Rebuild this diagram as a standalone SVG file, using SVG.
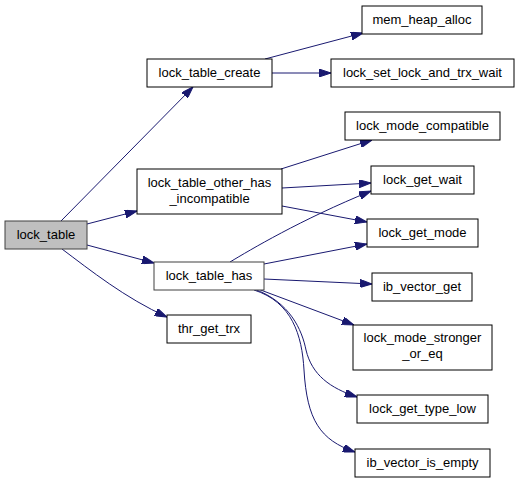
<svg xmlns="http://www.w3.org/2000/svg" width="520" height="483" viewBox="0 0 520 483">
<defs>
<style>
.n rect{fill:#ffffff;stroke:#000000;stroke-width:1}
.n.g rect{stroke:#404040}
.root rect{fill:#bfbfbf}
.n text{font-family:"Liberation Sans",Arial,sans-serif;font-size:13px;fill:#000000;text-anchor:middle}
.e path{fill:none;stroke:#191970;stroke-width:1;marker-end:url(#ah)}
</style>
<marker id="ah" markerUnits="userSpaceOnUse" viewBox="0 0 12 8" refX="12" refY="4" markerWidth="12" markerHeight="8" orient="auto">
<polygon points="0,0 12,4 0,8" fill="#191970" stroke="#191970"/>
</marker>
</defs>
<rect width="520" height="483" fill="#ffffff"/>
<g id="connectors" class="e">
<path d="M61,221 L193,87"/>
<path d="M87,224 L137,211"/>
<path d="M87,245 L154,263"/>
<path d="M62,249 C90,270 125,298 167,317"/>
<path d="M265,59 L363,33"/>
<path d="M272,73 L331,73"/>
<path d="M281,169 L372,140"/>
<path d="M282,188 L371,183"/>
<path d="M282,206 L367,222"/>
<path d="M230,262 C250,250 300,220 371,191"/>
<path d="M264,264 L367,244"/>
<path d="M264,279 L372,284"/>
<path d="M258,289 L354,325"/>
<path d="M254,289 C290,302 302,330 306,350 C312,375 330,388 357,397"/>
<path d="M254,290 C292,302 302,335 304,370 C307,420 320,440 355,452"/>
</g>
<g id="lock_table" class="n g root"><rect x="5" y="221" width="82" height="28"/><text x="46" y="239">lock_table</text></g>
<g id="lock_table_create" class="n"><rect x="147" y="59" width="125" height="28"/><text x="209.5" y="77">lock_table_create</text></g>
<g id="lock_table_other_has_incompatible" class="n"><rect x="137" y="169" width="145" height="45"/><text x="209.5" y="187">lock_table_other_has</text><text x="209.5" y="203">_incompatible</text></g>
<g id="lock_table_has" class="n g"><rect x="154" y="262" width="110" height="28"/><text x="209" y="280">lock_table_has</text></g>
<g id="thr_get_trx" class="n"><rect x="167" y="315" width="84" height="28"/><text x="209" y="333">thr_get_trx</text></g>
<g id="mem_heap_alloc" class="n"><rect x="362" y="6" width="120" height="28"/><text x="422" y="24">mem_heap_alloc</text></g>
<g id="lock_set_lock_and_trx_wait" class="n"><rect x="331" y="59" width="183" height="28"/><text x="422.5" y="77">lock_set_lock_and_trx_wait</text></g>
<g id="lock_mode_compatible" class="n"><rect x="345" y="112" width="155" height="28"/><text x="422.5" y="130">lock_mode_compatible</text></g>
<g id="lock_get_wait" class="n"><rect x="371" y="166" width="103" height="28"/><text x="422.5" y="184">lock_get_wait</text></g>
<g id="lock_get_mode" class="n"><rect x="367" y="219" width="111" height="28"/><text x="422.5" y="237">lock_get_mode</text></g>
<g id="ib_vector_get" class="n"><rect x="372" y="273" width="100" height="28"/><text x="422" y="291">ib_vector_get</text></g>
<g id="lock_mode_stronger_or_eq" class="n"><rect x="353" y="325" width="139" height="45"/><text x="422.5" y="342">lock_mode_stronger</text><text x="422.5" y="358">_or_eq</text></g>
<g id="lock_get_type_low" class="n"><rect x="357" y="395" width="131" height="28"/><text x="422.5" y="413">lock_get_type_low</text></g>
<g id="ib_vector_is_empty" class="n"><rect x="355" y="449" width="135" height="28"/><text x="422.5" y="467">ib_vector_is_empty</text></g>
</svg>
